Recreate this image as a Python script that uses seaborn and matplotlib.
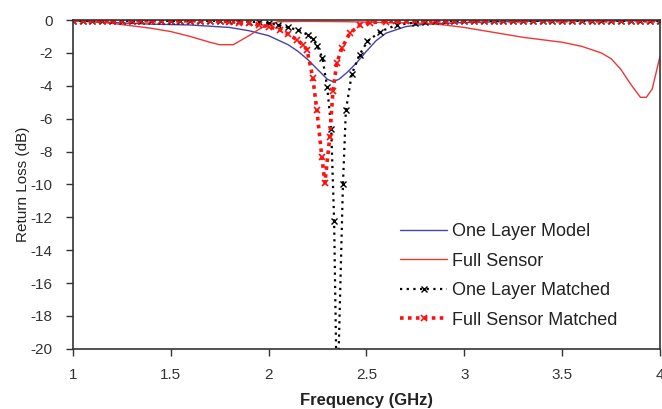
import numpy as np
import pandas as pd
import matplotlib.pyplot as plt
import seaborn as sns

# Valores (frecuencia en GHz, perdida de retorno en dB)
f_modelo = [1.0, 1.2, 1.4, 1.6, 1.8, 1.9, 2.0, 2.1, 2.15, 2.2, 2.25, 2.3, 2.33,
            2.36, 2.4, 2.45, 2.5, 2.55, 2.6, 2.7, 2.8, 3.0, 3.2, 3.5, 3.8, 4.0]
rl_modelo = [-0.05, -0.15, -0.25, -0.3, -0.45, -0.65, -0.95, -1.5, -1.9, -2.4, -3.0, -3.6, -3.75,
             -3.6, -3.2, -2.6, -1.9, -1.25, -0.8, -0.4, -0.25, -0.15, -0.1, -0.05, -0.05, -0.05]

f_sensor = [1.0, 1.1, 1.2, 1.3, 1.4, 1.5, 1.6, 1.7, 1.75, 1.82, 1.9, 1.96, 2.0, 2.05,
            2.2, 2.4, 2.6, 2.8, 2.9, 3.0, 3.1, 3.2, 3.3, 3.4, 3.5, 3.6, 3.7, 3.75,
            3.8, 3.85, 3.9, 3.93, 3.96, 4.0]
rl_sensor = [-0.05, -0.1, -0.2, -0.35, -0.5, -0.7, -1.0, -1.35, -1.5, -1.5, -0.95, -0.5, -0.25, -0.1,
             -0.08, -0.1, -0.15, -0.2, -0.3, -0.45, -0.65, -0.85, -1.05, -1.2, -1.35, -1.6, -2.0, -2.35,
             -3.0, -3.9, -4.7, -4.7, -4.2, -2.2]

f_modelo_ad = [1.0, 1.05, 1.1, 1.15, 1.2, 1.25, 1.3, 1.35, 1.4, 1.45, 1.5, 1.55, 1.6, 1.65,
               1.7, 1.75, 1.8, 1.85, 1.9, 1.95, 2.0, 2.05, 2.1, 2.15, 2.2, 2.225, 2.25, 2.275,
               2.3, 2.32, 2.335, 2.35, 2.38, 2.395, 2.425, 2.465, 2.505, 2.57, 2.655, 2.75,
               2.8, 2.85, 2.9, 2.95, 3.0, 3.05, 3.1, 3.15, 3.2, 3.25, 3.3, 3.35, 3.4, 3.45,
               3.5, 3.55, 3.6, 3.65, 3.7, 3.75, 3.8, 3.85, 3.9, 3.95, 4.0]
rl_modelo_ad = [-0.05, -0.05, -0.05, -0.05, -0.05, -0.05, -0.05, -0.05, -0.05, -0.05, -0.05, -0.05, -0.05, -0.05,
                -0.05, -0.05, -0.05, -0.07, -0.1, -0.12, -0.2, -0.3, -0.45, -0.6, -0.9, -1.15, -1.6, -2.3,
                -4.1, -6.6, -12.2, -24.0, -10.0, -5.5, -3.3, -2.1, -1.3, -0.7, -0.3, -0.15,
                -0.1, -0.08, -0.06, -0.05, -0.05, -0.05, -0.05, -0.05, -0.05, -0.05, -0.05, -0.05, -0.05, -0.05,
                -0.05, -0.05, -0.05, -0.05, -0.05, -0.05, -0.05, -0.05, -0.05, -0.05, -0.05]

f_sensor_ad = [1.0, 1.05, 1.1, 1.15, 1.2, 1.25, 1.3, 1.35, 1.4, 1.45, 1.5, 1.55, 1.6, 1.65,
               1.7, 1.75, 1.8, 1.85, 1.9, 1.95, 2.0, 2.06, 2.1, 2.145, 2.175, 2.196, 2.226, 2.247,
               2.272, 2.288, 2.313, 2.329, 2.349, 2.375, 2.415, 2.467, 2.52, 2.6, 2.65, 2.7,
               2.75, 2.8, 2.85, 2.9, 2.95, 3.0, 3.05, 3.1, 3.15, 3.2, 3.25, 3.3, 3.35, 3.4,
               3.45, 3.5, 3.55, 3.6, 3.65, 3.7, 3.75, 3.8, 3.85, 3.9, 3.95, 4.0]
rl_sensor_ad = [-0.05, -0.05, -0.05, -0.05, -0.05, -0.05, -0.05, -0.05, -0.05, -0.05, -0.05, -0.05, -0.05, -0.05,
                -0.05, -0.07, -0.1, -0.15, -0.2, -0.3, -0.4, -0.6, -0.85, -1.2, -1.5, -1.8, -3.5, -5.5,
                -8.3, -9.9, -7.1, -4.3, -2.6, -1.7, -0.8, -0.3, -0.15, -0.1, -0.08, -0.06,
                -0.05, -0.05, -0.05, -0.05, -0.05, -0.05, -0.05, -0.05, -0.05, -0.05, -0.05, -0.05, -0.05, -0.05,
                -0.05, -0.05, -0.05, -0.05, -0.05, -0.05, -0.05, -0.05, -0.05, -0.05, -0.05, -0.05]

sns.set_style("white")
plt.rcParams['font.family'] = ['Liberation Sans', 'DejaVu Sans']
plt.rcParams['axes.unicode_minus'] = False

fig = plt.figure(figsize=(6.62, 4.09), dpi=100)
ax = fig.add_axes([0.110, 0.147, 0.887, 0.804])

sns.lineplot(x=f_modelo, y=rl_modelo, ax=ax, color="#4444a8", linewidth=1.0,
             label="One Layer Model", estimator=None, sort=False)
sns.lineplot(x=f_sensor, y=rl_sensor, ax=ax, color="#f03535", linewidth=1.0,
             label="Full Sensor", estimator=None, sort=False)
sns.lineplot(x=f_modelo_ad, y=rl_modelo_ad, ax=ax, color="black", linewidth=1.6,
             linestyle=(0, (1, 2)), marker="x", markersize=4, markeredgewidth=1.0,
             markeredgecolor="black", label="One Layer Matched", estimator=None, sort=False)
sns.lineplot(x=f_sensor_ad, y=rl_sensor_ad, ax=ax, color="#ff1010", linewidth=2.6,
             linestyle=(0, (1, 1.2)), marker="x", markersize=4.5, markeredgewidth=1.2,
             markeredgecolor="#ff1010", label="Full Sensor Matched", estimator=None, sort=False)

ax.set_xlim(1, 4)
ax.set_ylim(-20, 0)
ax.set_xticks([1, 1.5, 2, 2.5, 3, 3.5, 4])
ax.set_xticklabels(["1", "1.5", "2", "2.5", "3", "3.5", "4"])
ax.set_yticks(np.arange(-20, 1, 2))
ax.tick_params(axis='both', direction='out', length=5, width=1, colors='#333333',
               labelsize=11, labelcolor='#333333', bottom=True, left=True)
ax.tick_params(axis='x', pad=8.5)
ax.tick_params(axis='y', pad=9.5)
for s in ax.spines.values():
    s.set_color('#333333')
    s.set_linewidth(1.2)

ax.set_xlabel("Frequency (GHz)", fontsize=12, fontweight='bold', color='#222222', labelpad=8)
ax.set_ylabel("Return Loss (dB)", fontsize=11, color='#222222', labelpad=0.5)

ax.legend(loc='lower left', bbox_to_anchor=(0.53, 0.012), frameon=False, fontsize=13,
          handlelength=2.6, handletextpad=0.28, labelspacing=0.69, labelcolor='#222222')

plt.savefig("out.png", dpi=100)
